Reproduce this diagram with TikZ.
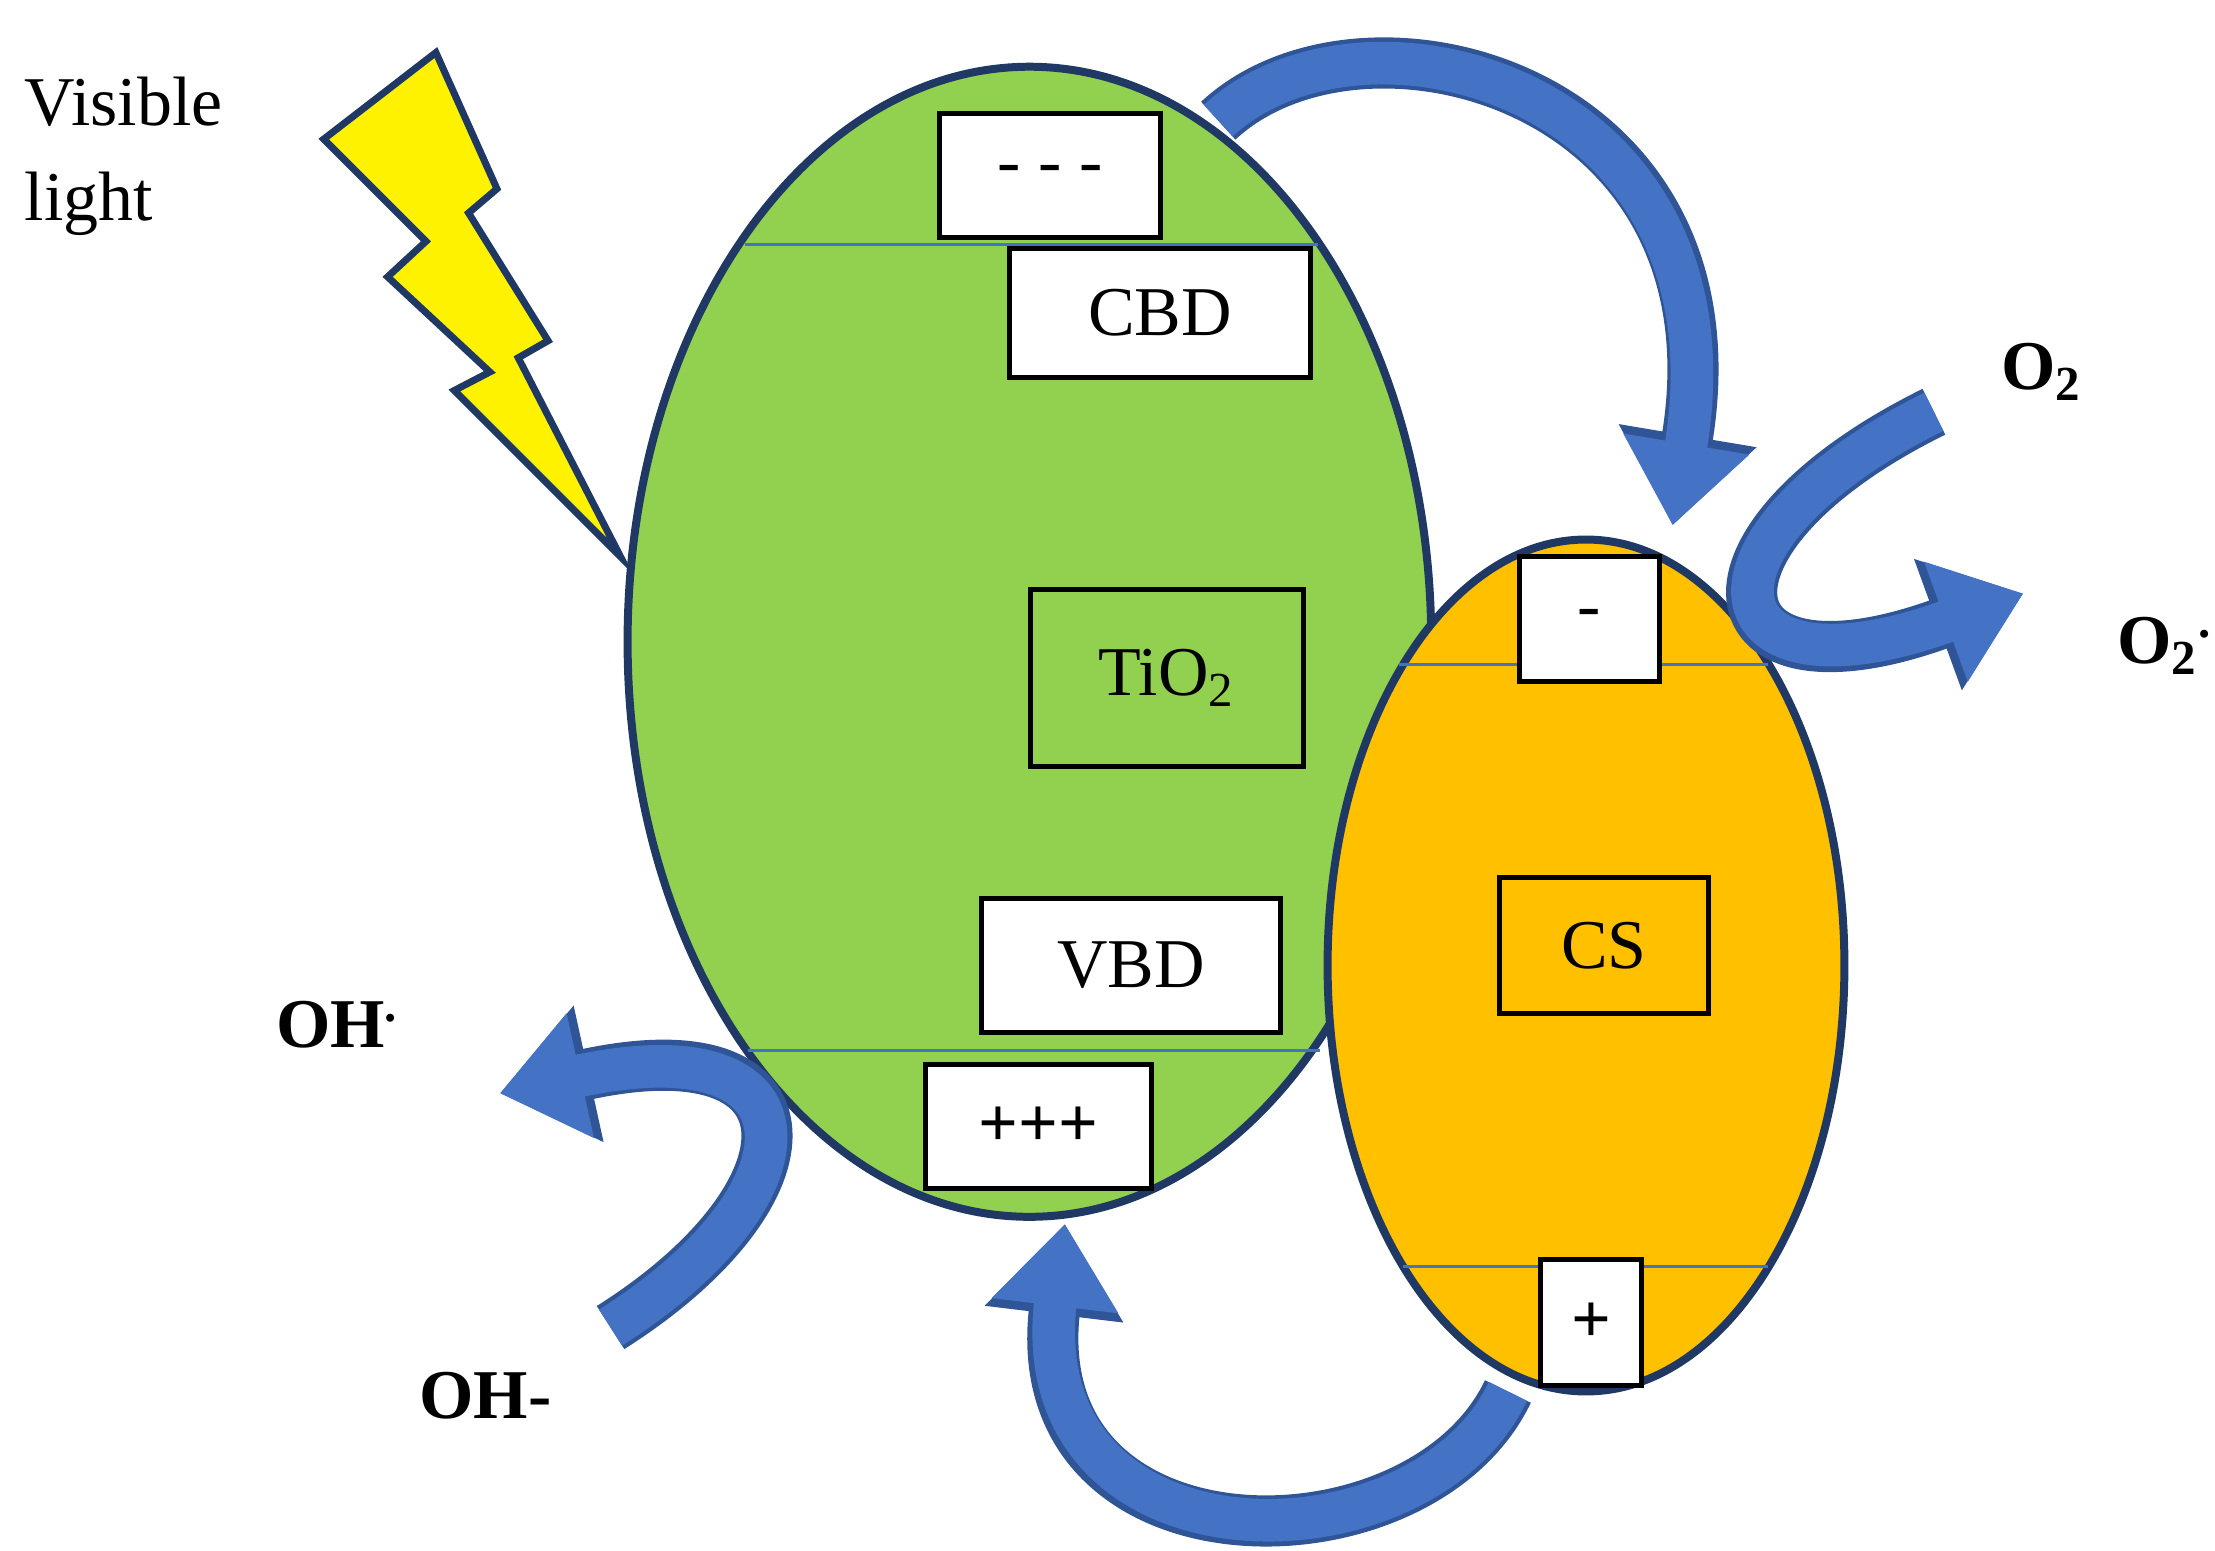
\documentclass[tikz,border=0pt]{standalone}
\usepackage{fontspec}
\setmainfont{Liberation Serif}
\usepackage{tikz}
\usetikzlibrary{arrows.meta}
\definecolor{navy}{HTML}{1F3864}
\definecolor{leaf}{HTML}{92D050}
\definecolor{amber}{HTML}{FFC000}
\definecolor{flow}{HTML}{4472C4}
\definecolor{flowedge}{HTML}{2F5597}
\tikzset{
  band/.style={draw=flow,line width=0.6pt},
  box/.style={draw=black,fill=white,line width=1pt,font=\fontsize{14}{16}\selectfont},
  frame/.style={draw=black,line width=1pt,font=\fontsize{14}{16}\selectfont},
  tag/.style={font=\fontsize{14}{16}\selectfont\bfseries},
  bigarrow/.style={line width=0.3cm,flow,
    preaction={draw=flowedge,line width=0.36cm,-{Triangle[length=6.4mm,width=9.4mm]}},
    -{Triangle[length=5.8mm,width=8.6mm]}}
}
\begin{document}
\begin{tikzpicture}[x=0.01cm,y=-0.01cm]
    \useasboundingbox (0,0) rectangle (1560,1092);
    % Particules
    \fill[leaf,draw=navy,line width=1.6pt] (725,452) ellipse [x radius=283,y radius=405];
    \fill[amber,draw=navy,line width=1.6pt] (1117,680) ellipse [x radius=182,y radius=300];

    % Bandes
    \draw[band] (525,172) -- (928,172);
    \draw[band] (527,740) -- (930,740);
    \draw[band] (985,468) -- (1245,468);
    \draw[band] (988,892) -- (1245,892);

    % Boites
    \node[box,minimum width=1.55cm,minimum height=0.87cm] (cbe) at (739.5,123.5) {- - -};
    \node[box,minimum width=2.12cm,minimum height=0.91cm] (cbd) at (817,220.5) {CBD};
    \node[frame,minimum width=1.92cm,minimum height=1.25cm] (tio) at (822,477.5) {TiO\textsubscript{2}};
    \node[box,minimum width=2.11cm,minimum height=0.94cm] (vbd) at (796.5,680) {VBD};
    \node[box,minimum width=1.59cm,minimum height=0.87cm] (vbh) at (731.5,793.5) {\textbf{+++}};
    \node[box,minimum width=0.99cm,minimum height=0.88cm] (cse) at (1119.5,436) {-};
    \node[frame,minimum width=1.47cm,minimum height=0.96cm] (cs) at (1129.5,666) {CS};
    \node[box,minimum width=0.71cm,minimum height=0.89cm] (csh) at (1120.5,931.5) {\textbf{+}};

    % Eclair
    \fill[yellow,draw=navy,line width=1.4pt] (228,98) -- (307,37) -- (350,133) -- (330,150)
      -- (386,240) -- (365,252) -- (437,392) -- (320,275) -- (345,262) -- (273,195)
      -- (300,170) -- cycle;
    \node[align=left,anchor=north west,font=\fontsize{14}{19}\selectfont] (vis) at (5,42) {Visible\\light};

    % Transferts
    \draw[bigarrow] (858,85) .. controls (960,-10) and (1230,60) .. (1178,370);
    \draw[bigarrow] (1062,980) .. controls (1000,1110) and (720,1110) .. (750,862);
    \draw[bigarrow] (1362,290) .. controls (1180,380) and (1200,500) .. (1425,418);
    \draw[bigarrow] (430,935) .. controls (580,840) and (580,720) .. (352,770);

    % Especes
    \node[tag] (o2) at (1438,262) {O\textsubscript{2}};
    \node[tag] (o2r) at (1525,455) {O\textsubscript{2}\textsuperscript{.}};
    \node[tag] (ohr) at (238,722) {OH\textsuperscript{.}};
    \node[tag] (oh) at (342,983) {OH-};
\end{tikzpicture}
\end{document}
